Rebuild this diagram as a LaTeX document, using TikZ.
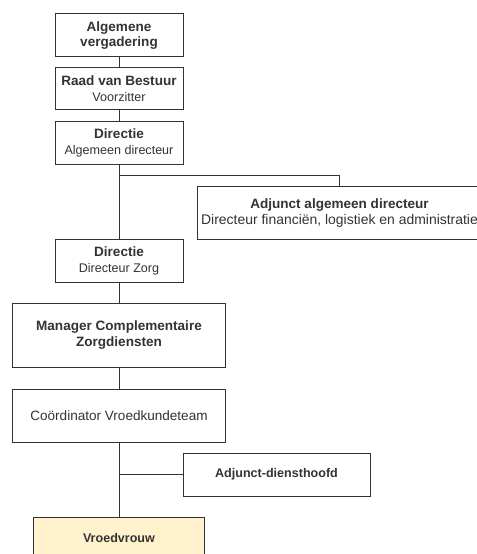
\documentclass[tikz,border=0pt]{standalone}
\usepackage{fontspec}
\setmainfont{Liberation Sans}
\usetikzlibrary{positioning}
\definecolor{lijn}{HTML}{333333}
\definecolor{geel}{HTML}{FFF2CC}
\newcommand{\ondertitel}[1]{{\fontsize{12.6}{16}\selectfont #1}}

\begin{document}
\begin{tikzpicture}[x=1bp, y=-1bp, node distance = 11bp,
	box/.style={draw=lijn, line width=1bp, fill=white, text=lijn, align=center,
		inner sep=0pt, outer sep=0pt, font=\fontsize{13.6}{16}\selectfont},
	smal/.style={box, minimum width=128bp, minimum height=43bp},
	breed/.style={box, minimum width=213bp}]
		\useasboundingbox (0,0) rectangle (477,554);
		\clip (0,0) rectangle (477,554);
		% hoofdlijn
		\node[smal] (alg) at (119,35.5) {\textbf{Algemene}\\\textbf{vergadering}};
		\node[smal, minimum height=42bp, below=11bp of alg] (rvb) {\textbf{Raad van Bestuur}\\\ondertitel{Voorzitter}};
		\node[smal, minimum height=42bp, below=12bp of rvb] (dir) {\textbf{Directie}\\\ondertitel{Algemeen directeur}};
		\node[smal, below=75bp of dir] (zorg) {\textbf{Directie}\\\ondertitel{Directeur Zorg}};
		\node[breed, minimum height=64bp, below=21bp of zorg] (mgr) {\textbf{Manager Complementaire}\\\textbf{Zorgdiensten}};
		\node[breed, minimum height=53bp, below=22bp of mgr] (coord) {Coördinator Vroedkundeteam};
		\node[box, fill=geel, minimum width=170bp, minimum height=43bp, below=75bp of coord] (vroed) {\textbf{\ondertitel{Vroedvrouw}}};
		% zijtakken
		\node[box, minimum width=285bp, minimum height=52bp] (adj) at (339.5,213) {\textbf{Adjunct algemeen directeur}\\{\fontsize{14}{16}\selectfont Directeur financiën, logistiek en administratie}};
		\node[box, minimum width=187bp, minimum height=43bp] (adh) at (276.5,474.5) {\textbf{\ondertitel{Adjunct-diensthoofd}}};
		\coordinate[below=11bp of dir] (split);

		\draw[lijn, line width=1bp] (alg) -- (rvb);
		\draw[lijn, line width=1bp] (rvb) -- (dir);
		\draw[lijn, line width=1bp] (dir) -- (zorg);
		\draw[lijn, line width=1bp] (split) -| (adj.north);
		\draw[lijn, line width=1bp] (zorg) -- (mgr);
		\draw[lijn, line width=1bp] (mgr) -- (coord);
		\draw[lijn, line width=1bp] (coord) -- (vroed);
		\draw[lijn, line width=1bp] (adh.west) -- (adh.west -| coord.south);
\end{tikzpicture}
\end{document}
